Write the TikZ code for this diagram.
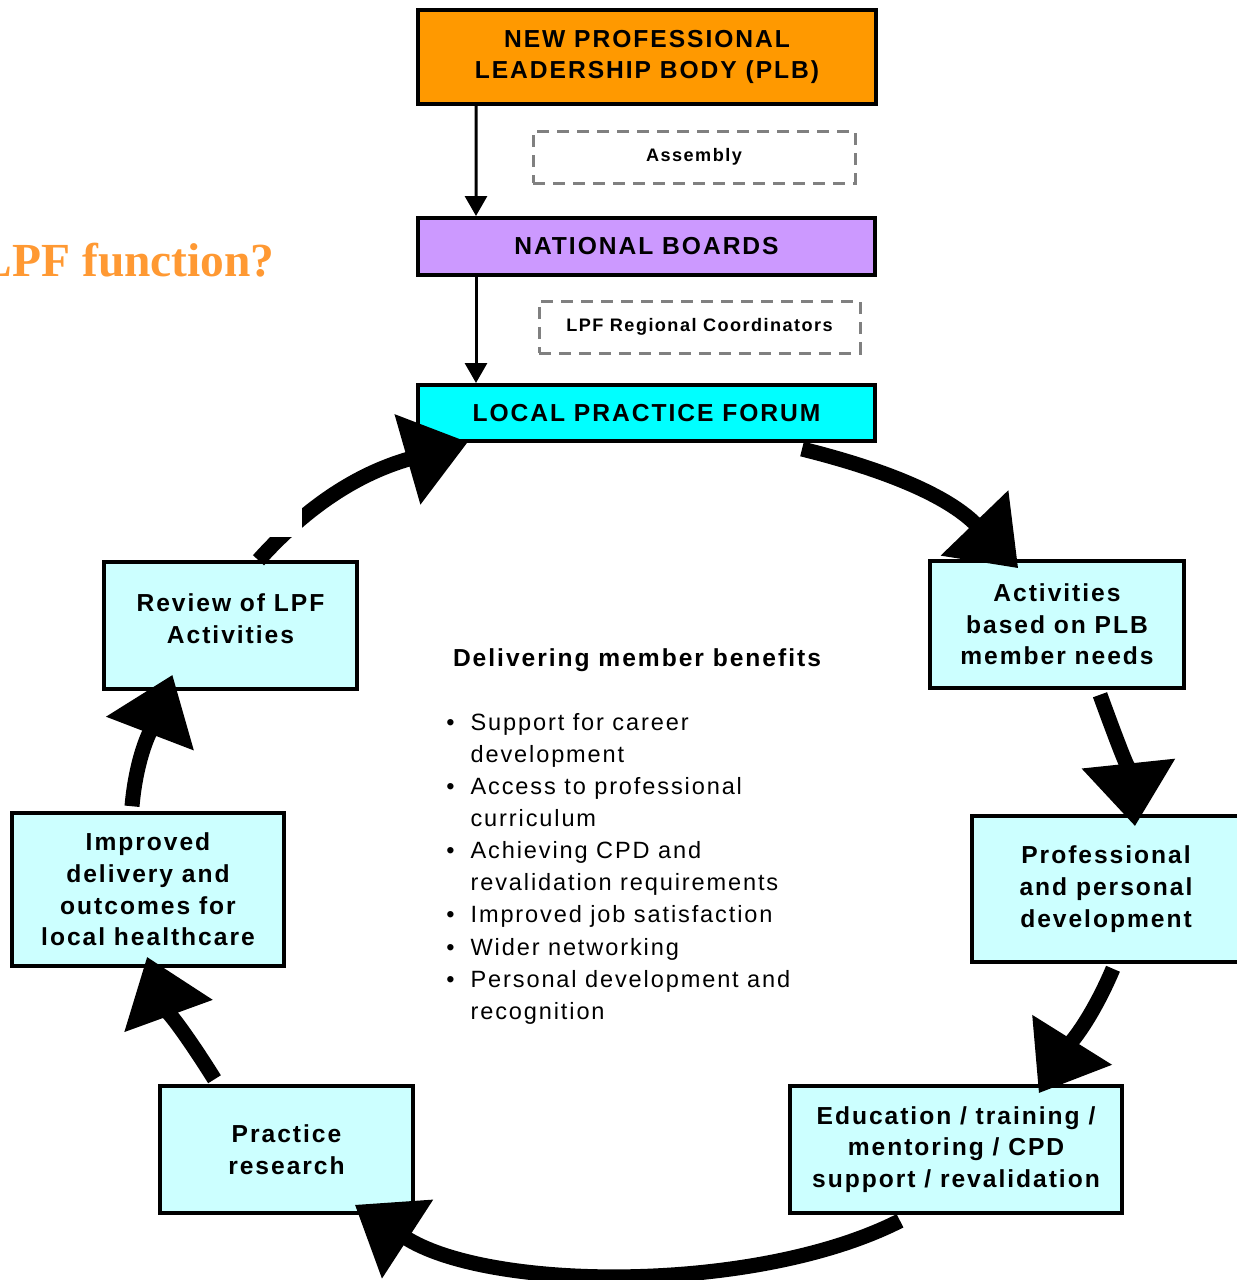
\documentclass[tikz,border=0pt]{standalone}
\usepackage{fontspec}
\setmainfont{Liberation Sans}[LetterSpace=8]
\newfontfamily\titlefont{Liberation Serif}
\usetikzlibrary{arrows.meta}

\definecolor{plborange}{RGB}{255,153,0}
\definecolor{boardpurple}{RGB}{204,153,255}
\definecolor{forumcyan}{RGB}{0,255,255}
\definecolor{cyclefill}{RGB}{204,255,255}
\definecolor{notegray}{RGB}{128,128,128}
\definecolor{titleorange}{RGB}{255,153,51}

\newcommand\lpfboxfont{\fontsize{14}{18}\selectfont\bfseries}
\newcommand\lpfnotefont{\fontsize{10.3}{12}\selectfont\bfseries}
\newcommand\lpflistfont{\fontsize{13.4}{18.3}\selectfont}

\tikzset{
  topbox/.style={draw, line width=0.8mm, inner sep=0pt, align=center, font=\lpfboxfont},
  cyclebox/.style={draw, line width=0.7mm, fill=cyclefill, inner sep=0pt, align=center, font=\lpfboxfont},
  notebox/.style={draw=notegray, line width=0.6mm, dash pattern=on 2.4mm off 1.6mm, inner sep=0pt, font=\lpfnotefont},
  cyc/.style={line width=3mm, -{Triangle[width=18mm,length=12.6mm]}},
  down/.style={line width=0.6mm, -{Triangle[width=4.4mm,length=4mm]}}
}

\begin{document}
\begin{tikzpicture}[x=0.2mm, y=-0.2mm]
\useasboundingbox (0,0) rectangle (1237,1280);

% Title
\node[anchor=base east, inner sep=0pt, text=titleorange, font=\titlefont\fontsize{27}{30}\selectfont\bfseries] (title) at (275,276) {LPF function?};

% Top boxes
\node[topbox, fill=plborange, minimum width=91.6mm, minimum height=18.8mm] (plb) at (647,57) {NEW PROFESSIONAL\\LEADERSHIP BODY (PLB)};
\node[topbox, fill=boardpurple, minimum width=91.4mm, minimum height=11.4mm] (nb) at (646.5,246.5) {NATIONAL BOARDS};
\node[topbox, fill=forumcyan, minimum width=91.4mm, minimum height=11.2mm] (lpf) at (646.5,413) {LOCAL PRACTICE FORUM};
\node[notebox, minimum width=64.4mm, minimum height=10.4mm] (asm) at (694,157) {Assembly};
\node[notebox, minimum width=64.2mm, minimum height=10.4mm] (rc) at (699.5,327) {LPF Regional Coordinators};

\draw[down] ([xshift=12mm]plb.south west) -- ([xshift=12mm]nb.north west);
\draw[down] ([xshift=12mm]nb.south west) -- ([xshift=12mm]lpf.north west);

% Cycle boxes
\node[cyclebox, minimum width=50.8mm, minimum height=25.4mm] (act) at (1057,624.5) {Activities\\based on PLB\\member needs};
\node[cyclebox, minimum width=53.6mm, minimum height=29.2mm] (pro) at (1106,889) {Professional\\and personal\\development};
\node[cyclebox, minimum width=66.4mm, minimum height=25.4mm] (edu) at (956,1149.5) {Education / training /\\mentoring / CPD\\support / revalidation};
\node[cyclebox, minimum width=50.6mm, minimum height=25.4mm] (res) at (286.5,1149.5) {Practice\\research};
\node[cyclebox, minimum width=54.4mm, minimum height=30.6mm] (imp) at (148,889.5) {Improved\\delivery and\\outcomes for\\local healthcare};
\node[cyclebox, minimum width=50.6mm, minimum height=25.4mm] (rev) at (230.5,625.5) {};
\node[font=\lpfboxfont, align=center, inner sep=0pt] (revtext) at (230.5,618.5) {Review of LPF\\Activities};

% Benefits
\node[anchor=base, inner sep=0pt, font=\lpfboxfont] (head) at (637,666) {Delivering member benefits};
\node[anchor=base west, inner sep=0pt, font=\lpflistfont] (list) at (446,730) {%
  \begin{tabular}[t]{@{}l@{\hspace{3.2mm}}l@{}}
  \textbullet & Support for career\\
              & development\\
  \textbullet & Access to professional\\
              & curriculum\\
  \textbullet & Achieving CPD and\\
              & revalidation requirements\\
  \textbullet & Improved job satisfaction\\
  \textbullet & Wider networking\\
  \textbullet & Personal development and\\
              & recognition
  \end{tabular}};

% Cycle arrows
\draw[cyc] ([xshift=-15mm,yshift=-1.2mm]lpf.south east) to[out=-14,in=134] ([xshift=18mm,yshift=-1.8mm]act.north west);
\draw[cyc] ([xshift=8.6mm,yshift=-1mm]act.south) to[out=-70,in=96] ([xshift=5.8mm,yshift=-2.4mm]pro.north);
\draw[cyc] ([xshift=1.4mm,yshift=-1mm]pro.south) to[out=-113,in=58] ([xshift=-17mm,yshift=-1.8mm]edu.north east);
\draw[cyc] ([xshift=-11.2mm,yshift=-1.2mm]edu.south) to[out=207,in=-33,looseness=0.75] ([xshift=-12mm,yshift=2mm]res.south east);
\draw[cyc] ([xshift=-14.4mm,yshift=1mm]res.north) to[out=122,in=-70] ([xshift=-0.2mm,yshift=2.2mm]imp.south);
\draw[cyc] ([xshift=-3.2mm,yshift=1mm]imp.north) to[out=85,in=-111] ([xshift=-11.6mm,yshift=3.2mm]rev.south);
\draw[cyc] ([xshift=5.6mm,yshift=0mm]rev.north) to[out=48,in=-164] ([xshift=10.4mm,yshift=0.2mm]lpf.south west);
\fill[white] (245,485) rectangle (302,537);
\end{tikzpicture}
\end{document}
